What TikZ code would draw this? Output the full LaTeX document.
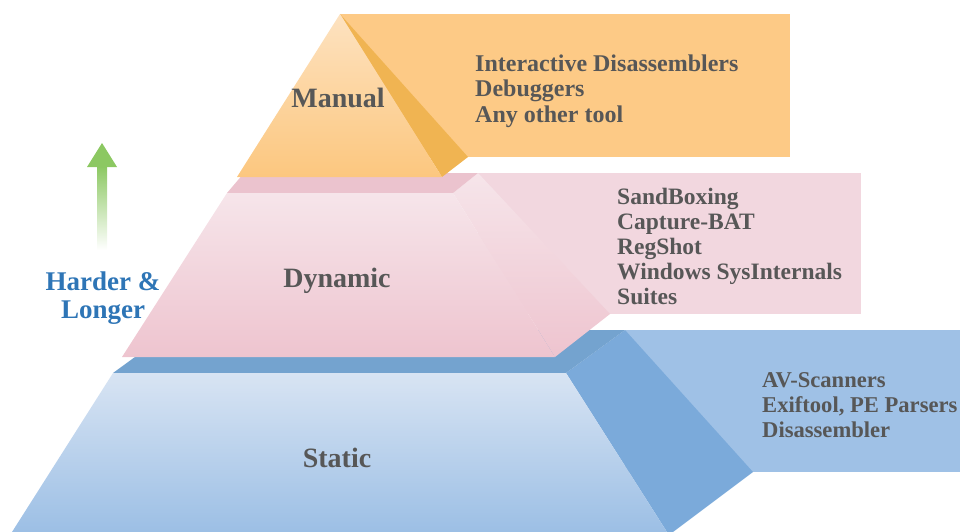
\documentclass[tikz,border=0pt]{standalone}
\usepackage{fontspec}
\setmainfont{Liberation Serif}
\definecolor{txtgray}{HTML}{575757}
\definecolor{hblue}{HTML}{2E75B6}
\definecolor{arrgreen}{HTML}{8CC862}
\definecolor{orRect}{HTML}{FDCA86}
\definecolor{orTop}{HTML}{FDE2C0}
\definecolor{orBot}{HTML}{FCC77F}
\definecolor{orDark}{HTML}{F0B452}
\definecolor{pkRect}{HTML}{F2D7DF}
\definecolor{pkTop}{HTML}{F6E5EA}
\definecolor{pkBot}{HTML}{EEC4CF}
\definecolor{pkSlab}{HTML}{EBC3CE}
\definecolor{blRect}{HTML}{9FC1E6}
\definecolor{blTop}{HTML}{D8E4F3}
\definecolor{blBot}{HTML}{9CBFE5}
\definecolor{blSlab}{HTML}{74A3CF}
\definecolor{blSide}{HTML}{7BAADA}
\begin{document}
\begin{tikzpicture}[x=1pt,y=-1pt,
  lbl/.style={anchor=base,inner sep=0pt,text=txtgray,font=\bfseries\fontsize{28}{28}\selectfont},
  lstA/.style={anchor=base west,inner sep=0pt,text=txtgray,font=\bfseries\fontsize{24}{24}\selectfont},
  lstB/.style={anchor=base west,inner sep=0pt,text=txtgray,font=\bfseries\fontsize{23.5}{23.5}\selectfont},
  lstC/.style={anchor=base west,inner sep=0pt,text=txtgray,font=\bfseries\fontsize{22.6}{22.6}\selectfont},
  hl/.style={anchor=base,inner sep=0pt,text=hblue,font=\bfseries\fontsize{27}{27}\selectfont}]
\useasboundingbox (0,0) rectangle (960,532);
\clip (0,0) rectangle (960,532);
% ---- Static layer
\fill[blRect] (625,330) rectangle (960,472);
\fill[blSide] (566,373) -- (625,330) -- (753,472) -- (673,532) -- (667,532) -- cycle;
\fill[blSlab] (172,330) -- (625,330) -- (566,373) -- (113,373) -- cycle;
\shade[top color=blTop,bottom color=blBot] (113,373) -- (566,373) -- (667,532) -- (12,532) -- cycle;
% ---- Dynamic layer
\fill[pkRect] (478,173) rectangle (861,314);
\shade[top color=pkTop,bottom color=pkBot] (453,193) -- (478,173) -- (610,314) -- (555,357) -- cycle;
\fill[pkSlab] (244,173) -- (478,173) -- (453,193) -- (227,193) -- cycle;
\shade[top color=pkTop,bottom color=pkBot] (227,193) -- (453,193) -- (555,357) -- (122,357) -- cycle;
% ---- Manual layer
\fill[orRect] (340,14) rectangle (790,157);
\fill[orDark] (340,14) -- (468,157) -- (442,177) -- cycle;
\shade[top color=orTop,bottom color=orBot] (340,14) -- (442,177) -- (237,177) -- cycle;
% ---- Arrow
\shade[top color=arrgreen,bottom color=white] (97.5,166) rectangle (107,250);
\fill[arrgreen] (87,167) -- (117,167) -- (102,143) -- cycle;
% ---- Labels
\node[lbl] (manual) at (338,107) {Manual};
\node[lbl] (dynamic) at (337,287) {Dynamic};
\node[lbl] (static) at (337,467) {Static};
\node[lstA] (m1) at (475,72) {Interactive Disassemblers};
\node[lstA] (m2) at (475,97) {Debuggers};
\node[lstA] (m3) at (475,122) {Any other tool};
\node[lstB] (d1) at (617,204) {SandBoxing};
\node[lstB] (d2) at (617,229) {Capture-BAT};
\node[lstB] (d3) at (617,254) {RegShot};
\node[lstB] (d4) at (617,279) {Windows SysInternals};
\node[lstB] (d5) at (617,304) {Suites};
\node[lstC] (s1) at (762,387) {AV-Scanners};
\node[lstC] (s2) at (762,412) {Exiftool, PE Parsers};
\node[lstC] (s3) at (762,437) {Disassembler};
\node[hl] (h1) at (103,290) {Harder \&};
\node[hl] (h2) at (103,318) {Longer};
\end{tikzpicture}
\end{document}
